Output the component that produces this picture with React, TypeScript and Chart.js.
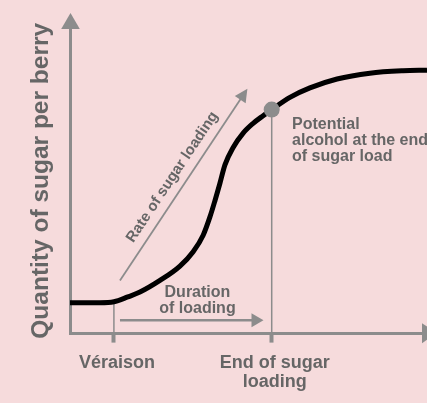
import React, { useEffect, useRef } from 'react';
import { Chart, registerables } from 'chart.js';

Chart.register(...registerables);

const FONT = "'Liberation Sans', Arial, Helvetica, sans-serif";
const BG = '#f6dbdc';
const TEXT = '#666666';
const GREY = '#8c8c8c';

// Sugar loading curve (time units vs. sugar units)
const timeX = [0, 8.4, 12.3, 16.2, 19.6, 25.2, 30.8, 34.5, 37.3, 39.2, 40.6, 42.0, 43.4, 45.7, 48.5, 51.3, 54.1, 56.5, 61.6, 67.2, 74.8, 84.0, 93.3, 100];
const sugarY = [10.1, 10.1, 10.4, 12.0, 13.6, 17.4, 22.1, 26.8, 32.2, 38.2, 43.5, 49.2, 55.2, 60.9, 65.6, 68.8, 71.3, 73.3, 77.3, 80.4, 83.3, 85.2, 86.0, 86.2];

// x-axis ticks
const VERAISON = 12.3;
const END_LOAD = 56.5;
const tickValues = [VERAISON, END_LOAD];
const tickLabels: (string | string[])[] = ['Véraison', ['End of sugar', 'loading']];

const yTitle = 'Quantity of sugar per berry';

// annotations
const rateArrowX = [14.0, 49.7];
const rateArrowY = [17.4, 80.1];
const rateLabel = 'Rate of sugar loading';
const durationArrowX = [14.0, 54.2];
const durationArrowY = [4.4, 4.4];
const durationLabel = ['Duration', 'of loading'];
const durationLabelAt = [35.7, 12.0];
const potentialLabel = ['Potential', 'alcohol at the end', 'of sugar load'];
const potentialLabelAt = [62.2, 67.0];

function head(ctx: CanvasRenderingContext2D, tx: number, ty: number, ang: number, len: number, half: number, color: string) {
  const c = Math.cos(ang), s = Math.sin(ang);
  const bx = tx - len * c, by = ty - len * s;
  ctx.fillStyle = color;
  ctx.beginPath();
  ctx.moveTo(tx, ty);
  ctx.lineTo(bx - half * s, by + half * c);
  ctx.lineTo(bx + half * s, by - half * c);
  ctx.closePath();
  ctx.fill();
}

function arrow(ctx: CanvasRenderingContext2D, x1: number, y1: number, x2: number, y2: number, lw: number, len: number, half: number, color: string) {
  const ang = Math.atan2(y2 - y1, x2 - x1);
  const c = Math.cos(ang), s = Math.sin(ang);
  ctx.strokeStyle = color;
  ctx.lineWidth = lw;
  ctx.lineCap = 'butt';
  ctx.beginPath();
  ctx.moveTo(x1, y1);
  ctx.lineTo(x2 - (len - 1) * c, y2 - (len - 1) * s);
  ctx.stroke();
  head(ctx, x2, y2, ang, len, half, color);
}

const diagramPlugin = {
  id: 'diagram',
  afterDatasetsDraw(chart: any) {
    const { ctx, chartArea, scales } = chart;
    const xs = scales.x, ys = scales.y;
    const px = (v: number) => xs.getPixelForValue(v);
    const py = (v: number) => ys.getPixelForValue(v);
    ctx.save();
    // axis arrowheads
    const ax = chartArea.left + 0.5;
    const ay = chartArea.bottom - 0.4;
    head(ctx, ax, chartArea.top - 15, -Math.PI / 2, 16, 9.3, GREY);
    head(ctx, chartArea.right + 10, ay, 0, 15, 10, GREY);

    // rate arrow
    const r1x = px(rateArrowX[0]), r1y = py(rateArrowY[0]);
    const r2x = px(rateArrowX[1]), r2y = py(rateArrowY[1]);
    arrow(ctx, r1x, r1y, r2x, r2y, 1.8, 13, 6.5, GREY);

    // duration arrow
    arrow(ctx, px(durationArrowX[0]), py(durationArrowY[0]), px(durationArrowX[1]), py(durationArrowY[1]), 2.5, 12, 7, GREY);

    ctx.fillStyle = TEXT;
    // rate label
    const ang = Math.atan2(r2y - r1y, r2x - r1x);
    const len = Math.hypot(r2x - r1x, r2y - r1y);
    const nx = (r2y - r1y) / len, ny = -(r2x - r1x) / len;
    const mx = (r1x + r2x) / 2 + 13.6 * nx, my = (r1y + r2y) / 2 + 13.6 * ny;
    ctx.save();
    ctx.translate(mx, my);
    ctx.rotate(ang);
    ctx.font = `bold 15px ${FONT}`;
    ctx.textAlign = 'center';
    ctx.textBaseline = 'middle';
    ctx.fillText(rateLabel, 0, 0);
    ctx.restore();

    // duration label
    ctx.font = `bold 16px ${FONT}`;
    ctx.textAlign = 'center';
    ctx.textBaseline = 'alphabetic';
    durationLabel.forEach((t, i) => ctx.fillText(t, px(durationLabelAt[0]), py(durationLabelAt[1]) + i * 16));

    // potential label
    ctx.textAlign = 'left';
    potentialLabel.forEach((t, i) => ctx.fillText(t, px(potentialLabelAt[0]), py(potentialLabelAt[1]) + i * 16.2));
    ctx.restore();
  },
};

export default function App() {
  const ref = useRef<HTMLCanvasElement | null>(null);
  useEffect(() => {
    if (!ref.current) return;
    const curve = timeX.map((x, i) => ({ x, y: sugarY[i] }));
    const yAt = (x: number) => sugarY[timeX.indexOf(x)];
    const chart = new Chart(ref.current, {
      type: 'line',
      data: {
        datasets: [
          {
            data: [{ x: END_LOAD, y: yAt(END_LOAD) }],
            showLine: false,
            pointRadius: 8,
            pointBackgroundColor: GREY,
            pointBorderWidth: 0,
            borderColor: GREY,
          },
          {
            data: curve,
            borderColor: '#000000',
            borderWidth: 5,
            pointRadius: 0,
            cubicInterpolationMode: 'monotone',
            fill: false,
          },
          {
            data: [{ x: END_LOAD, y: 0 }, { x: END_LOAD, y: yAt(END_LOAD) }],
            borderColor: GREY,
            borderWidth: 1.5,
            pointRadius: 0,
          },
          {
            data: [{ x: VERAISON, y: 0 }, { x: VERAISON, y: yAt(VERAISON) }],
            borderColor: GREY,
            borderWidth: 1.5,
            pointRadius: 0,
          },
        ],
      },
      options: {
        responsive: false,
        animation: false,
        events: [],
        devicePixelRatio: 1,
        layout: { autoPadding: false, padding: { left: 22.4, top: 28, right: 0, bottom: 0 } },
        plugins: { legend: { display: false }, tooltip: { enabled: false } },
        scales: {
          x: {
            type: 'linear',
            min: 0,
            max: 100,
            border: { display: true, color: GREY, width: 3 },
            grid: { display: true, drawOnChartArea: false, drawTicks: true, tickLength: 9, tickWidth: 4, tickColor: GREY, color: GREY },
            afterBuildTicks: (scale: any) => {
              scale.ticks = tickValues.map((v) => ({ value: v }));
            },
            ticks: {
              autoSkip: false,
              maxRotation: 0,
              minRotation: 0,
              padding: 11.3,
              labelOffset: 3,
              color: TEXT,
              font: { family: FONT, size: 18, weight: 'bold', lineHeight: 1.05 },
              callback: (_v: any, i: number) => tickLabels[i],
            },
          },
          y: {
            type: 'linear',
            min: 0,
            max: 100,
            border: { display: true, color: GREY, width: 3 },
            grid: { display: false, drawTicks: false },
            ticks: { display: false },
            title: {
              display: true,
              text: yTitle,
              color: TEXT,
              font: { family: FONT, size: 24.5, weight: 'bold', lineHeight: 1.2 },
              padding: { top: 4, bottom: 14.2 },
            },
          },
        },
      } as any,
      plugins: [diagramPlugin],
    });
    return () => chart.destroy();
  }, []);
  return (
    <div style={{ position: 'fixed', left: 0, top: 0, width: 427, height: 403, background: BG, overflow: 'hidden' }}>
      <canvas ref={ref} width={427} height={403} style={{ display: 'block', width: 427, height: 403 }} />
    </div>
  );
}
